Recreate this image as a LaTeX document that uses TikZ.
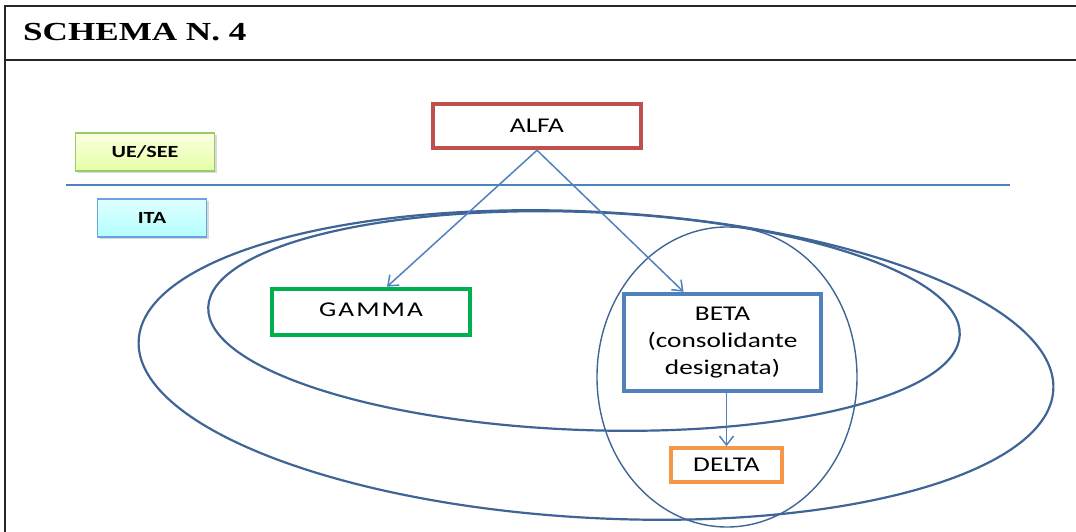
\documentclass[tikz,border=0pt]{standalone}
\usepackage{fontspec}
\setmainfont{Carlito}[FakeStretch=1.3]
\newfontfamily\titlefont{Liberation Serif}[FakeStretch=1.35]
\usetikzlibrary{arrows.meta,shadows}
\definecolor{alfared}{HTML}{C0504D}
\definecolor{gammagreen}{HTML}{00B050}
\definecolor{betablue}{HTML}{4F81BD}
\definecolor{deltaorange}{HTML}{F79646}
\definecolor{ringblue}{HTML}{3F6496}
\begin{document}
\begin{tikzpicture}[x=1pt,y=-1pt,
  box/.style={draw,line width=4.5pt,fill=white,minimum width=#1,inner sep=0pt,font=\fontsize{21}{27}\selectfont,align=center},
  tag/.style={draw,line width=1.3pt,inner sep=0pt,minimum height=38pt,font=\fontsize{17}{18}\selectfont\bfseries,
    drop shadow={shadow xshift=2pt,shadow yshift=-2pt,opacity=0.3}},
  link/.style={betablue,line width=1.5pt,-{Straight Barb[length=9pt,width=14pt]}},
  ring/.style={ringblue,line width=2.2pt},
]
\useasboundingbox (0,0) rectangle (1076,532);
% frame and title
\draw[black!85,line width=2.5pt] (1076,6) -- (5,6) -- (5,532);
\draw[black!85,line width=2.5pt] (5,60) -- (1076,60);
\node[anchor=west,inner sep=0pt,font=\titlefont\fontsize{26}{26}\selectfont\bfseries] (title) at (23,32) {SCHEMA N. 4};
% areas
\draw[betablue,line width=1.2pt] (66,185) -- (1010,185);
\node[tag,minimum width=139pt,draw=green!35!olive!60,top color=green!8!yellow!12,bottom color=green!30!yellow!35] (uesee) at (145,152) {UE/SEE};
\node[tag,minimum width=109pt,draw=cyan!60!blue!60,top color=cyan!12,bottom color=cyan!30] (ita) at (152,218) {ITA};
\draw[ring,rotate around={-3.1:(596,365)}] (596,365) ellipse [x radius=458, y radius=153];
\draw[ring,rotate around={-2.1:(584,321)}] (584,321) ellipse [x radius=376, y radius=109];
\draw[ring,line width=1.4pt] (727,377) ellipse [x radius=130, y radius=150];
% companies
\node[box=208pt,draw=alfared,minimum height=44pt] (alfa) at (537,126) {ALFA};
\node[box=198pt,draw=gammagreen,minimum height=46pt] (gamma) at (371,312) {\raisebox{5pt}{\addfontfeature{LetterSpace=10}GAMMA}};
\node[box=197pt,draw=betablue,minimum height=97pt] (beta) at (722.5,342.5) {BETA\\(consolidante\\designata)};
\node[box=111pt,draw=deltaorange,line width=3.5pt,minimum height=34pt] (delta) at (726.5,465) {DELTA};
% control
\draw[link] (alfa.south) -- ([xshift=16pt]gamma.north);
\draw[link] (alfa.south) -- ([xshift=-39pt]beta.north);
\draw[link] (beta.south -| delta.north) -- (delta.north);
\end{tikzpicture}
\end{document}
